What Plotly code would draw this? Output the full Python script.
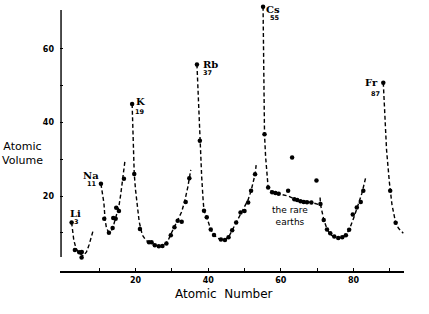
import plotly.graph_objects as go

# ---- data ----
# dots (atomic number, atomic volume)
dot_z = [2.4, 3.3, 4.5, 5.2, 5.15,
         10.47, 11.38, 12.67, 13.69, 13.86, 14.52, 14.68, 15.43, 16.8,
         19.06, 19.64, 21.2, 23.7, 24.4, 25.3, 26.4, 27.4, 28.5, 29.7, 30.7, 31.6, 32.7, 33.8, 34.8,
         36.9, 37.7, 38.84, 39.6, 40.7, 41.6, 43.5, 44.6, 45.6, 46.6, 47.7, 48.9, 50.0, 51.0, 51.8, 52.9,
         55.1, 55.5, 56.5, 57.6, 58.5, 59.4, 62.0, 63.1, 63.7, 64.5, 65.4, 66.3, 67.2, 68.4, 69.8,
         70.9, 71.8, 72.7, 73.6, 74.7, 75.8, 76.9, 77.9, 78.8, 79.8, 80.9, 82.0, 82.7,
         88.2, 90.1, 91.6]
dot_v = [12.8, 5.3, 4.7, 4.8, 3.3,
         23.3, 13.8, 10.0, 11.3, 14.0, 13.8, 16.8, 15.9, 24.7,
         45.0, 26.0, 11.0, 7.4, 7.4, 6.6, 6.3, 6.4, 7.1, 9.3, 11.5, 13.3, 13.0, 18.4, 24.8,
         55.8, 35.0, 16.0, 14.2, 10.9, 9.4, 8.2, 8.0, 8.8, 10.7, 12.8, 15.5, 15.9, 18.2, 21.4, 25.9,
         71.5, 36.8, 22.3, 21.0, 20.8, 20.6, 21.4, 30.5, 19.1, 18.9, 18.6, 18.4, 18.3, 18.2, 24.2,
         17.8, 13.5, 10.9, 9.9, 9.0, 8.6, 8.8, 9.3, 10.8, 15.0, 16.9, 18.4, 21.4,
         50.8, 21.4, 12.7]

# dashed guide curves, one per period
curve_z = [
    [2.4, 2.7, 3.0, 3.6, 4.5, 5.6, 6.5, 7.2, 7.9, 8.35],
    [10.47, 10.9, 11.3, 11.6, 12.0, 12.67, 13.4, 14.1, 14.8, 15.4, 15.9, 16.4, 17.1],
    [19.06, 19.64, 20.0, 20.5, 21.0, 21.85, 22.8, 23.7, 25.3, 26.7, 28.1, 29.0, 29.9, 30.9,
     31.8, 32.7, 33.6, 34.4, 35.2],
    [36.9, 37.7, 38.2, 38.6, 38.84, 39.6, 40.7, 41.6, 42.6, 43.5, 44.6, 45.6, 46.6, 47.7,
     48.9, 50.0, 51.0, 51.8, 52.9, 53.2],
    [55.1, 55.5, 55.8, 56.2, 56.5, 57.6, 59.0, 60.3, 62.0, 63.6, 65.0, 66.9, 68.7, 70.6],
    [70.8, 70.9, 71.8, 72.7, 73.6, 74.7, 75.8, 76.9, 77.9, 78.8, 80.2, 81.3, 82.3, 83.3],
    [88.2, 89.1, 89.9, 90.1, 90.6, 91.6, 92.4, 93.7],
]
curve_v = [
    [12.8, 10.3, 8.0, 5.8, 4.4, 3.7, 4.8, 6.7, 8.9, 10.7],
    [23.3, 20.7, 18.0, 13.7, 11.2, 10.1, 10.7, 12.6, 14.8, 17.1, 20.3, 24.4, 29.7],
    [45.0, 26.0, 21.6, 17.1, 13.0, 9.4, 8.0, 7.4, 6.7, 6.2, 6.9, 8.0, 10.0, 12.1,
     13.9, 15.7, 18.9, 22.5, 27.1],
    [55.8, 35.0, 25.3, 18.9, 16.0, 14.2, 10.9, 9.4, 8.5, 8.2, 8.0, 8.8, 10.7, 12.8,
     15.2, 16.9, 19.0, 21.4, 25.9, 28.4],
    [71.5, 36.8, 30.7, 24.5, 22.3, 21.0, 20.7, 20.4, 20.0, 19.3, 18.8, 18.5, 18.2, 17.6],
    [19.6, 17.8, 13.6, 11.0, 9.6, 8.8, 8.5, 8.8, 9.5, 10.8, 14.4, 17.5, 20.7, 24.8],
    [50.8, 32.5, 23.5, 21.4, 17.6, 12.7, 11.2, 9.9],
]

# labelled alkali metals
label_sym = ["Li", "Na", "K", "Rb", "Cs", "Fr"]
label_num = ["3", "11", "19", "37", "55", "87"]
label_z = [2.4, 10.47, 19.06, 36.9, 55.1, 88.2]
label_v = [12.8, 23.3, 45.0, 55.8, 71.5, 50.8]

x_ticks = [10, 20, 30, 40, 50, 60, 70, 80, 90]
x_ticktext = ["", "20", "", "40", "", "60", "", "80", ""]
y_ticks = [10, 20, 30, 40, 50, 60]
y_ticktext = ["", "20", "", "40", "", "60"]

# ---- styles / positions ----
sym_shift = [(4, 9), (-10, 8), (8, 3), (14, 0), (10, -3), (-12, 0)]
num_shift = [(5, 0), (-9, 0), (8, -8), (11, -9), (12, -11), (-8, -11)]
ink = "black"

fig = go.Figure()
for cz, cv in zip(curve_z, curve_v):
    fig.add_trace(go.Scatter(
        x=cz, y=cv, mode="lines",
        line=dict(color=ink, width=1.4, dash="4px,2.6px", shape="linear"),
        cliponaxis=False, hoverinfo="skip", showlegend=False))
fig.add_trace(go.Scatter(
    x=dot_z, y=dot_v, mode="markers",
    marker=dict(color=ink, size=4.5, line=dict(width=0)),
    cliponaxis=False, showlegend=False))

for s, n, z, v, ss, ns in zip(label_sym, label_num, label_z, label_v, sym_shift, num_shift):
    fig.add_annotation(x=z, y=v, xref="x", yref="y", text=s, showarrow=False,
                       xshift=ss[0], yshift=ss[1], xanchor="center", yanchor="middle",
                       font=dict(family="DejaVu Serif", size=10, color=ink, weight="bold"))
    fig.add_annotation(x=z, y=v, xref="x", yref="y", text=n, showarrow=False,
                       xshift=ns[0], yshift=ns[1], xanchor="center", yanchor="middle",
                       font=dict(family="DejaVu Sans", size=6.5, color=ink, weight="bold"))

fig.add_annotation(x=62.5, y=14.6, xref="x", yref="y", text="the rare<br>earths",
                   showarrow=False, xanchor="center", yanchor="middle",
                   font=dict(family="DejaVu Sans", size=9, color=ink))
fig.add_annotation(x=-0.1076, y=0.44, xref="paper", yref="paper", text="Atomic<br>Volume",
                   showarrow=False, align="center", xanchor="center", yanchor="middle",
                   font=dict(family="DejaVu Sans", size=11, color=ink))
fig.add_annotation(x=0.476, y=-0.088, xref="paper", yref="paper",
                   text="Atomic\u00a0\u00a0Number", showarrow=False,
                   xanchor="center", yanchor="middle",
                   font=dict(family="DejaVu Sans", size=12, color=ink))

# vertical axis line (does not reach the horizontal axis)
fig.add_shape(type="line", xref="paper", yref="y", x0=0.003, x1=0.003, y0=3.4, y1=70.6,
              line=dict(color=ink, width=1.4))

fig.update_layout(
    width=429, height=314,
    margin=dict(l=60, r=25, t=4, b=43),
    paper_bgcolor="white", plot_bgcolor="white",
    showlegend=False,
    xaxis=dict(range=[-0.8, 93.9], showgrid=False, zeroline=False,
               showline=True, linecolor=ink, linewidth=1.6,
               tickvals=x_ticks, ticktext=x_ticktext, ticks="inside", ticklen=3,
               tickcolor=ink, tickwidth=1, ticklabelstandoff=1,
               tickfont=dict(family="DejaVu Sans", size=8, color=ink, weight="bold")),
    yaxis=dict(range=[-0.4, 72.23], showgrid=False, zeroline=False, showline=False,
               tickvals=y_ticks, ticktext=y_ticktext, ticks="inside", ticklen=3,
               tickcolor=ink, tickwidth=1, ticklabelstandoff=5,
               tickfont=dict(family="DejaVu Sans", size=8, color=ink, weight="bold")),
)

fig.write_html("out.html")
